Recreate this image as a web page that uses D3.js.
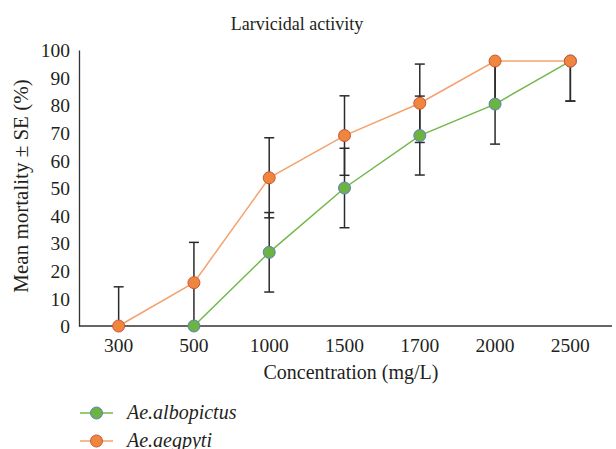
<!DOCTYPE html>
<html>
<head>
<meta charset="utf-8">
<script src="https://cdn.jsdelivr.net/npm/d3@7"></script>
<style>
  body { margin: 0; background: #fff; }
  text { font-family: "Liberation Serif", "DejaVu Serif", serif; fill: #231f20; }
</style>
</head>
<body>
<div id="chart"></div>
<script>
// concentrations (mg/L)
const categories = ['300', '500', '1000', '1500', '1700', '2000', '2500'];
const yTicks = [0, 10, 20, 30, 40, 50, 60, 70, 80, 90, 100];

// mean mortality (%) and SE, null = no point
const albopictus    = [null, 0, 26.7, 50, 69, 80.4, 96];
const albopictusErr = [null, 0, 14.4, 14.4, 14.3, 14.5, 14.5];
const aegypti       = [0, 15.7, 53.7, 69, 80.7, 96, 96];
const aegyptiErr    = [14.2, 14.6, 14.5, 14.4, 14.2, 14.5, 14.5];

const W = 616, H = 449;
const svg = d3.select('#chart').append('svg')
  .attr('width', W).attr('height', H);

const x = d3.scaleBand().domain(categories).range([81, 608]);
const y = d3.scaleLinear().domain([0, 100]).range([326, 50]);
const cx = c => x(c) + x.bandwidth() / 2;

// title
svg.append('text').attr('x', 297).attr('y', 30)
  .attr('text-anchor', 'middle').attr('font-size', 18)
  .text('Larvicidal activity');

// axes
const yAxis = svg.append('g').attr('transform', 'translate(79,0)')
  .call(d3.axisLeft(y).tickValues(yTicks).tickSize(0).tickPadding(9));
yAxis.select('.domain').attr('stroke', '#333').attr('stroke-width', 1.3);
yAxis.selectAll('text').attr('font-size', 19.5).attr('dy', '0.34em');

const xAxis = svg.append('g').attr('transform', `translate(0,${y(0)})`)
  .call(d3.axisBottom(x).tickSize(0).tickPadding(12));
xAxis.select('.domain').attr('d', 'M79,0H612').attr('stroke', '#333').attr('stroke-width', 1.3);
xAxis.selectAll('text').attr('font-size', 19.5).attr('dy', '0.71em');

svg.append('text').attr('x', 351).attr('y', 379)
  .attr('text-anchor', 'middle').attr('font-size', 20)
  .text('Concentration (mg/L)');

svg.append('text').attr('transform', 'translate(28,186) rotate(-90)')
  .attr('text-anchor', 'middle').attr('font-size', 21)
  .text('Mean mortality ± SE (%)');

const series = [
  { name: 'Ae.albopictus', vals: albopictus, err: albopictusErr,
    line: '#72b84a', fill: '#6db33f', stroke: '#5b7fc4' },
  { name: 'Ae.aegpyti', vals: aegypti, err: aegyptiErr,
    line: '#f4a26c', fill: '#f0853d', stroke: '#c9573a' }
];

// error bars: each half only when it stays inside the 0-100 axis range
const eb = svg.append('g').attr('stroke', '#2b2b2b').attr('stroke-width', 1.5);
series.forEach(s => {
  categories.forEach((c, i) => {
    const v = s.vals[i], e = s.err[i];
    if (v == null || !e) return;
    const X = cx(c);
    [v - e, v + e].forEach(t => {
      if (t < 0 || t > 100) return;
      eb.append('line').attr('x1', X).attr('x2', X).attr('y1', y(v)).attr('y2', y(t));
      eb.append('line').attr('x1', X - 5).attr('x2', X + 5).attr('y1', y(t)).attr('y2', y(t));
    });
  });
});

// lines and markers
const line = d3.line()
  .defined(d => d.v != null)
  .x(d => cx(d.c)).y(d => y(d.v));

series.forEach(s => {
  const pts = categories.map((c, i) => ({ c, v: s.vals[i] }));
  svg.append('path').datum(pts)
    .attr('d', line).attr('fill', 'none')
    .attr('stroke', s.line).attr('stroke-width', 1.5);
  svg.append('g').selectAll('circle')
    .data(pts.filter(d => d.v != null)).join('circle')
    .attr('cx', d => cx(d.c)).attr('cy', d => y(d.v)).attr('r', 6)
    .attr('fill', s.fill).attr('stroke', s.stroke).attr('stroke-width', 1);
});

// legend
const lg = svg.append('g');
series.forEach((s, i) => {
  const ly = 413 + i * 28;
  lg.append('line').attr('x1', 80).attr('x2', 113).attr('y1', ly).attr('y2', ly)
    .attr('stroke', s.line).attr('stroke-width', 1.5);
  lg.append('circle').attr('cx', 96.5).attr('cy', ly).attr('r', 6)
    .attr('fill', s.fill).attr('stroke', s.stroke).attr('stroke-width', 1);
  lg.append('text').attr('x', 127).attr('y', ly + 6)
    .attr('font-size', 20).attr('font-style', 'italic')
    .text(s.name);
});
</script>
</body>
</html>
